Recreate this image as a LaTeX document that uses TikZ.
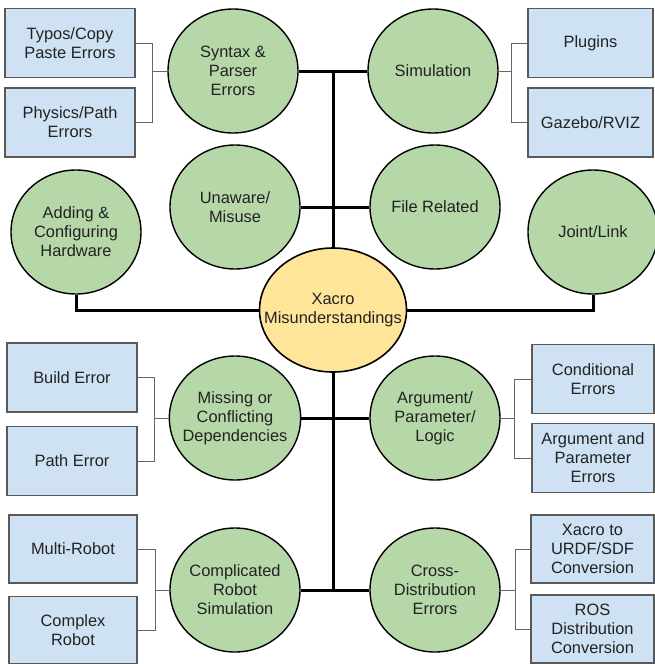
\documentclass[tikz,border=0pt]{standalone}
\usepackage{fontspec}
\setmainfont{Liberation Sans}
\usetikzlibrary{shapes.geometric}
\definecolor{cgreen}{HTML}{B6D7A8}
\definecolor{cyellow}{HTML}{FFE599}
\definecolor{cblue}{HTML}{CFE2F3}
\definecolor{cboxline}{HTML}{595959}
\definecolor{cbracket}{HTML}{666666}
\definecolor{ctext}{HTML}{222222}
\tikzset{
  every node/.style={font=\fontsize{16.4}{19}\selectfont, text=ctext, align=center},
  circ/.style={ellipse, draw=black, line width=1.4pt, fill=cgreen, inner xsep=-6pt, inner ysep=0pt, minimum width=130pt, minimum height=124pt},
  core/.style={ellipse, draw=black, line width=1.6pt, fill=cyellow, inner xsep=-18pt, inner ysep=0pt, minimum width=147pt, minimum height=124pt},
  leaf/.style={rectangle, draw=cboxline, line width=1.2pt, fill=cblue, inner sep=0pt, minimum width=130pt, minimum height=69pt},
  bracket/.style={draw=cbracket, line width=1pt},
  trunk/.style={draw=black, line width=3pt},
}
\begin{document}
\begin{tikzpicture}[x=1pt,y=-1pt]
\useasboundingbox (0,0) rectangle (654,664);

% central
\node[core] (X) at (333,310) {Xacro\\Misunderstandings};

% green circles
\node[circ] (syn) at (233,71) {Syntax \&\\Parser\\Errors};
\node[circ] (sim) at (433,71) {Simulation};
\node[circ] (una) at (235,207) {Unaware/\\Misuse};
\node[circ] (file) at (435,207) {File Related};
\node[circ] (add) at (76,232) {Adding \&\\Configuring\\Hardware};
\node[circ] (joint) at (593,232) {Joint/Link};
\node[circ] (miss) at (235,418) {Missing or\\Conflicting\\Dependencies};
\node[circ] (arg) at (435,418) {Argument/\\Parameter/\\Logic};
\node[circ] (comp) at (235,590) {Complicated\\Robot\\Simulation};
\node[circ] (cross) at (435,590) {Cross-\\Distribution\\Errors};

% blue leaf boxes
\node[leaf] (typo) at (70,43) {Typos/Copy\\Paste Errors};
\node[leaf] (phys) at (70,122.5) {Physics/Path\\Errors};
\node[leaf, minimum width=125pt] (plug) at (590.5,43) {Plugins};
\node[leaf, minimum width=125pt] (gaz) at (590.5,122.5) {Gazebo/RVIZ};
\node[leaf] (build) at (72,377.5) {Build Error};
\node[leaf] (path) at (72,461) {Path Error};
\node[leaf, minimum width=122pt] (cond) at (593,379) {Conditional\\Errors};
\node[leaf, minimum width=122pt] (argp) at (593,458) {Argument and\\Parameter\\Errors};
\node[leaf, minimum width=128pt, minimum height=68pt] (multi) at (73,549) {Multi-Robot};
\node[leaf, minimum width=128pt, minimum height=67pt] (cplx) at (73,630) {Complex\\Robot};
\node[leaf, minimum width=123pt, minimum height=68pt] (conv) at (592.5,549) {Xacro to\\URDF/SDF\\Conversion};
\node[leaf, minimum width=123pt, minimum height=68pt] (ros) at (592.5,629) {ROS\\Distribution\\Conversion};

% trunk connectors
\path[trunk] (X.north) -- (X.north |- syn.east);
\path[trunk] (syn.east) -- (sim.west);
\path[trunk] (una.east) -- (file.west);
\path[trunk] (X.south) -- (X.south |- comp.east);
\path[trunk] (miss.east) -- (arg.west);
\path[trunk] (comp.east) -- (cross.west);
\path[trunk] (add.south) |- (X.west);
\path[trunk] (joint.south) |- (X.east);

% brackets
\path[bracket] (typo.east) -- ++(17,0) |- (syn.west);
\path[bracket] (phys.east) -- ++(17,0) |- (syn.west);
\path[bracket] (plug.west) -- ++(-16,0) |- (sim.east);
\path[bracket] (gaz.west) -- ++(-16,0) |- (sim.east);
\path[bracket] (build.east) -- ++(17,0) |- (miss.west);
\path[bracket] (path.east) -- ++(17,0) |- (miss.west);
\path[bracket] (cond.west) -- ++(-17,0) |- (arg.east);
\path[bracket] (argp.west) -- ++(-17,0) |- (arg.east);
\path[bracket] (multi.east) -- ++(18,0) |- (comp.west);
\path[bracket] (cplx.east) -- ++(18,0) |- (comp.west);
\path[bracket] (conv.west) -- ++(-15,0) |- (cross.east);
\path[bracket] (ros.west) -- ++(-15,0) |- (cross.east);
\end{tikzpicture}
\end{document}
